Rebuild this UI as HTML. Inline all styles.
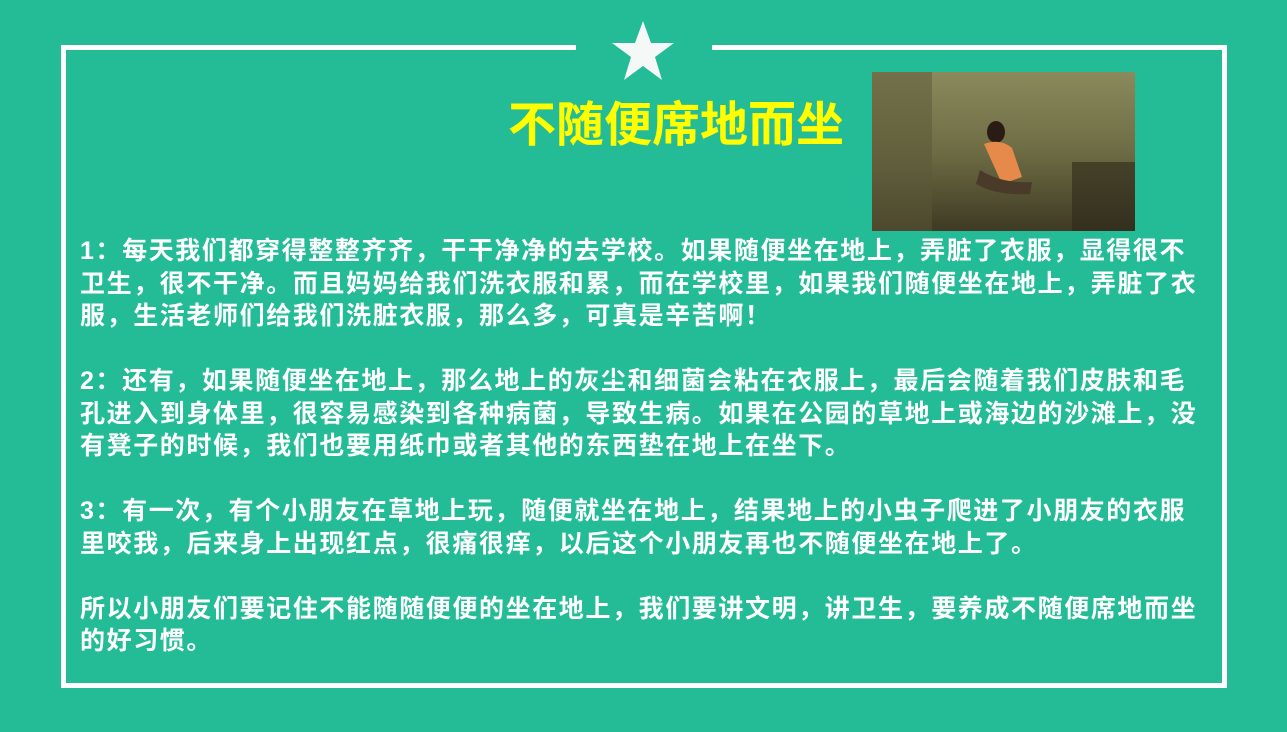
<!DOCTYPE html>
<html><head><meta charset="utf-8"><style>
html,body{margin:0;padding:0}
body{width:1287px;height:732px;background:#23bc96;position:relative;overflow:hidden;font-family:"Liberation Sans","Noto Sans CJK SC",sans-serif}
.ln{position:absolute;background:#fff}
#title{position:absolute;left:470px;top:97px;width:412px;text-align:center;color:#ffff00;font-weight:bold;font-size:48px;line-height:58px;white-space:nowrap}
#body{position:absolute;left:80px;top:235px;color:#fff;font-weight:bold;font-size:25px;line-height:32.5px;letter-spacing:1.6px;white-space:nowrap}
#body p{margin:0 0 32.5px 0}
</style></head><body>
<div class="ln" style="left:61px;top:45px;width:5px;height:643px"></div>
<div class="ln" style="left:1222px;top:45px;width:5px;height:643px"></div>
<div class="ln" style="left:61px;top:683px;width:1166px;height:5px"></div>
<div class="ln" style="left:61px;top:45px;width:515px;height:5px"></div>
<div class="ln" style="left:712px;top:45px;width:515px;height:5px"></div>
<svg style="position:absolute;left:610px;top:19px" width="66" height="64" viewBox="0 0 66 64"><polygon fill="#f4f8f6" points="33,2 41,24 64,24 45,38 52,61 33,47 14,61 21,38 2,24 25,24"/></svg>
<div id="title">不随便席地而坐</div>
<svg style="position:absolute;left:872px;top:72px" width="263" height="159">
<defs><linearGradient id="g" x1="0" y1="0" x2="0" y2="1"><stop offset="0" stop-color="#8a8a5c"/><stop offset="0.5" stop-color="#6e6c44"/><stop offset="1" stop-color="#3e3a24"/></linearGradient></defs>
<rect width="263" height="159" fill="url(#g)"/>
<rect x="0" y="0" width="60" height="159" fill="#5a5838" opacity="0.5"/>
<rect x="200" y="90" width="63" height="69" fill="#2e2a1a" opacity="0.6"/>
<ellipse cx="124" cy="60" rx="9" ry="11" fill="#2a1c14"/>
<path d="M112 72 Q128 66 140 76 L150 105 L130 112 Z" fill="#e58a4a"/>
<path d="M108 98 Q130 112 160 110 L158 122 Q125 124 104 112 Z" fill="#4a3a2a"/>
</svg>
<div id="body">
<p>1：每天我们都穿得整整齐齐，干干净净的去学校。如果随便坐在地上，弄脏了衣服，显得很不<br>卫生，很不干净。而且妈妈给我们洗衣服和累，而在学校里，如果我们随便坐在地上，弄脏了衣<br>服，生活老师们给我们洗脏衣服，那么多，可真是辛苦啊！</p>
<p>2：还有，如果随便坐在地上，那么地上的灰尘和细菌会粘在衣服上，最后会随着我们皮肤和毛<br>孔进入到身体里，很容易感染到各种病菌，导致生病。如果在公园的草地上或海边的沙滩上，没<br>有凳子的时候，我们也要用纸巾或者其他的东西垫在地上在坐下。</p>
<p>3：有一次，有个小朋友在草地上玩，随便就坐在地上，结果地上的小虫子爬进了小朋友的衣服<br>里咬我，后来身上出现红点，很痛很痒，以后这个小朋友再也不随便坐在地上了。</p>
<p>所以小朋友们要记住不能随随便便的坐在地上，我们要讲文明，讲卫生，要养成不随便席地而坐<br>的好习惯。</p>
</div>
</body></html>
